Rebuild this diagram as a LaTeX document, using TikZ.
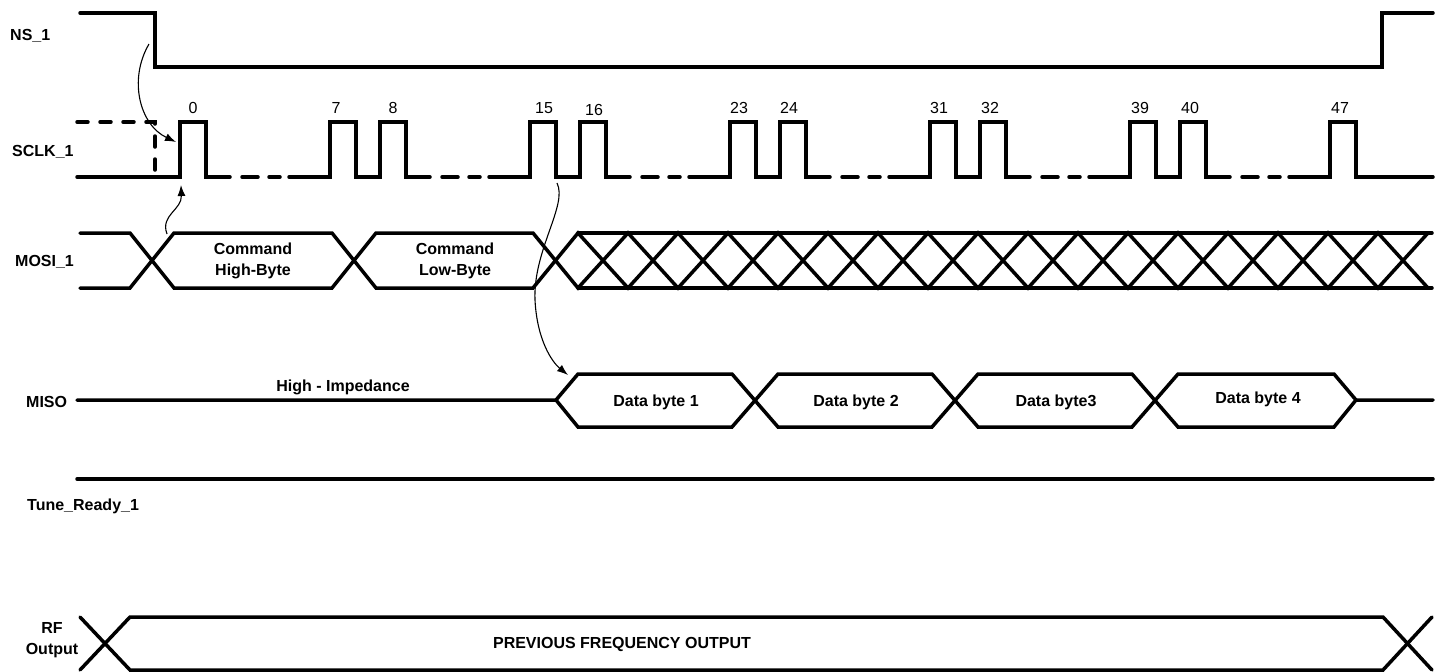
\documentclass[tikz,border=0pt]{standalone}
\usepackage{fontspec}
\setmainfont{Liberation Sans}
\usetikzlibrary{arrows.meta}
\begin{document}
\begin{tikzpicture}[x=1pt,y=-1pt,
  sig/.style={line width=3.5pt, line join=miter, line cap=round},
  dsig/.style={sig, dash pattern=on 11pt off 12pt},
  lbl/.style={font=\fontsize{16}{21}\selectfont\bfseries, inner sep=0pt, align=center},
  num/.style={font=\fontsize{16}{19}\selectfont, inner sep=0pt},
  cause/.style={line width=1.1pt, -{Latex[length=11pt,width=8pt]}}]
\useasboundingbox (0,0) rectangle (1446,672);

% ---------- signal names ----------
\node[lbl,anchor=west] (nsl) at (10,36) {NS\_1};
\node[lbl,anchor=west] (sclkl) at (12,152) {SCLK\_1};
\node[lbl,anchor=west] (mosil) at (15,262) {MOSI\_1};
\node[lbl,anchor=west] (misol) at (26,402) {MISO};
\node[lbl,anchor=west] (tunel) at (27,506) {Tune\_Ready\_1};
\node[lbl] (rfl) at (52,640) {RF\\Output};

% ---------- NS_1 ----------
\draw[sig] (80,13) -- (155,13) -- (155,67) -- (1382,67) -- (1382,13) -- (1433,13);

% ---------- SCLK_1 ----------
\draw[dsig] (77,122) -- (155,122) -- (155,177);
\draw[sig] (77,177) -- (180,177) -- (180,122) -- (206,122) -- (206,177) -- (230,177);
\foreach \b in {330,530,730,930,1130}{
  \draw[sig] (\b-41,177) -- (\b,177) -- (\b,122) -- (\b+26,122) -- (\b+26,177)
     -- (\b+50,177) -- (\b+50,122) -- (\b+76,122) -- (\b+76,177) -- (\b+100,177);
}
\draw[sig] (1289,177) -- (1330,177) -- (1330,122) -- (1356,122) -- (1356,177) -- (1433,177);
\foreach \f in {206,406,606,806,1006,1206}{
  \draw[sig] (\f+36,177) -- (\f+52,177);
  \draw[sig] (\f+63,177) -- (\f+74,177);
}
\node[num] (n0)  at (193,108) {0};
\node[num] (n7)  at (336,108) {7};
\node[num] (n8)  at (393,108) {8};
\node[num] (n15) at (544,108) {15};
\node[num] (n16) at (594,110) {16};
\node[num] (n23) at (739,108) {23};
\node[num] (n24) at (789,108) {24};
\node[num] (n31) at (939,108) {31};
\node[num] (n32) at (990,108) {32};
\node[num] (n39) at (1140,108) {39};
\node[num] (n40) at (1190,108) {40};
\node[num] (n47) at (1340,108) {47};

% ---------- MOSI_1 ----------
\draw[sig] (80,233) -- (130,233) -- (174,288) -- (332,288) -- (376,233) -- (533,233)
  \foreach \k in {0,...,17}{ -- ({578+50*\k}, {mod(\k,2)==0 ? 288 : 233}) };
\draw[sig] (80,288) -- (130,288) -- (174,233) -- (332,233) -- (376,288) -- (533,288)
  \foreach \k in {0,...,17}{ -- ({578+50*\k}, {mod(\k,2)==0 ? 233 : 288}) };
\draw[sig] (578,233) -- (1432,233);
\draw[sig] (578,288) -- (1432,288);
\node[lbl] (cmdh) at (253,261) {Command\\High-Byte};
\node[lbl] (cmdl) at (455,261) {Command\\Low-Byte};

% ---------- MISO ----------
\draw[sig] (77,400) -- (556,400) -- (578,374) -- (732,374) -- (778,427) -- (932,427)
  -- (978,374) -- (1132,374) -- (1178,427) -- (1334,427) -- (1356,400) -- (1433,400);
\draw[sig] (556,400) -- (578,427) -- (732,427) -- (778,374) -- (932,374) -- (978,427)
  -- (1132,427) -- (1178,374) -- (1334,374) -- (1356,400);
\node[lbl] (hiz) at (343,387) {High - Impedance};
\node[lbl] (d1) at (656,402) {Data byte 1};
\node[lbl] (d2) at (856,402) {Data byte 2};
\node[lbl] (d3) at (1056,402) {Data byte3};
\node[lbl] (d4) at (1258,399) {Data byte 4};

% ---------- Tune_Ready_1 ----------
\draw[sig] (77,479) -- (1433,479);

% ---------- RF Output ----------
\draw[sig] (80,617) -- (130,670) -- (1383,670) -- (1432,617);
\draw[sig] (80,670) -- (130,617) -- (1383,617) -- (1432,670);
\node[lbl] (prev) at (622,644) {PREVIOUS FREQUENCY OUTPUT};

% ---------- causality arrows ----------
\coordinate (a1s) at (149,44);  \coordinate (a1e) at (176,142);
\coordinate (a2s) at (167,234); \coordinate (a2e) at (181,185);
\coordinate (a3s) at (557,183); \coordinate (a3e) at (568,375);
\draw[cause] (a1s) .. controls (128,80) and (140,125) .. (a1e);
\draw[cause] (a2s) .. controls (160,215) and (182,210) .. (a2e);
\draw[cause] (a3s) .. controls (568,205) and (533,250) .. (535,300)
  .. controls (537,340) and (552,362) .. (a3e);
\end{tikzpicture}
\end{document}
